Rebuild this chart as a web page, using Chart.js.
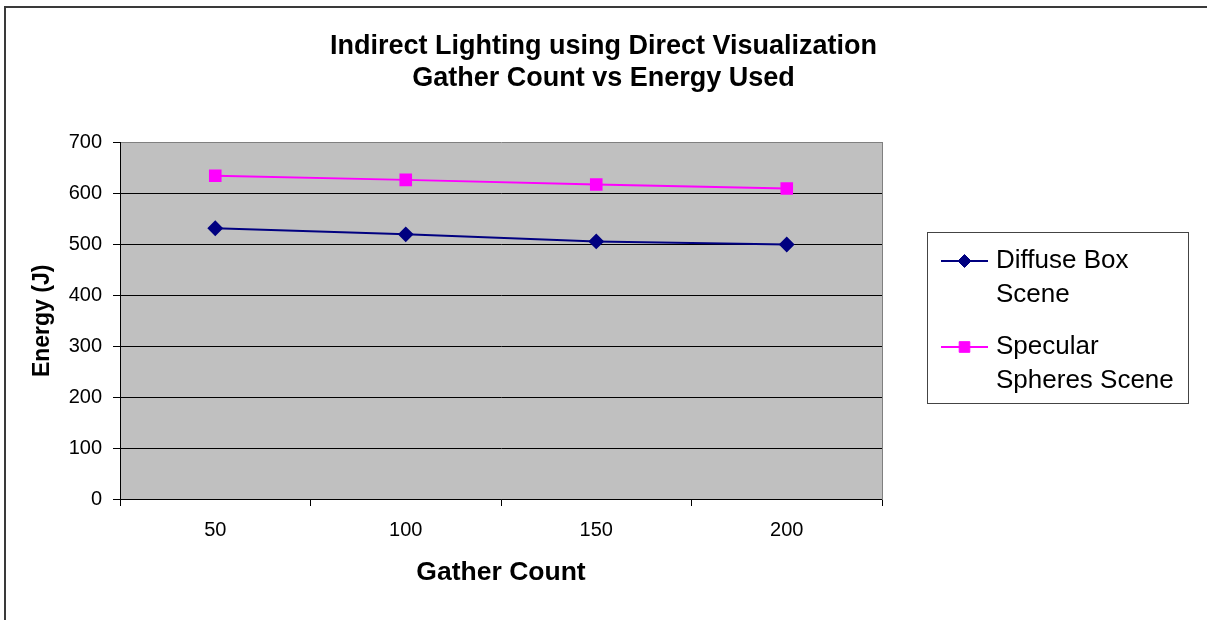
<!DOCTYPE html>
<html>
<head>
<meta charset="utf-8">
<script src="https://cdn.jsdelivr.net/npm/chart.js@4.4.1/dist/chart.umd.min.js"></script>
<style>
  html, body { margin: 0; padding: 0; background: #fff; }
  #wrap { width: 1207px; height: 620px; }
</style>
</head>
<body>
<div id="wrap"><canvas id="c" width="1207" height="620"></canvas></div>
<script>
const titleLines = ['Indirect Lighting using Direct Visualization', 'Gather Count vs Energy Used'];
const categories = ['50', '100', '150', '200'];
const diffuseBox = [532, 520, 506, 500];
const specularSpheres = [635, 627, 618, 610];
const seriesNames = ['Diffuse Box Scene', 'Specular Spheres Scene'];
const xAxisTitle = 'Gather Count';
const yAxisTitle = 'Energy (J)';
const yMin = 0, yMax = 700, yStep = 100;

const FONT = "'Liberation Sans', Arial, sans-serif";

const framePlugin = {
  id: 'frame',
  beforeDraw(chart) {
    const ctx = chart.ctx;
    const a = chart.chartArea;
    ctx.save();
    ctx.fillStyle = '#ffffff';
    ctx.fillRect(0, 0, chart.width, chart.height);
    ctx.strokeStyle = '#3a3a3a';
    ctx.lineWidth = 2;
    ctx.beginPath();
    ctx.moveTo(5, chart.height + 2);
    ctx.lineTo(5, 7);
    ctx.lineTo(chart.width + 2, 7);
    ctx.stroke();
    ctx.fillStyle = '#C0C0C0';
    ctx.fillRect(a.left, a.top, a.right - a.left, a.bottom - a.top);
    ctx.restore();
  }
};

function wrapText(ctx, text, maxW) {
  const words = text.split(' ');
  const lines = [];
  let cur = '';
  for (const w of words) {
    const t = cur ? cur + ' ' + w : w;
    if (ctx.measureText(t).width > maxW && cur) { lines.push(cur); cur = w; }
    else cur = t;
  }
  if (cur) lines.push(cur);
  return lines;
}

const legendPlugin = {
  id: 'customLegend',
  afterDraw(chart) {
    const ctx = chart.ctx;
    ctx.save();
    ctx.strokeStyle = '#444';
    ctx.lineWidth = 1;
    ctx.strokeRect(927.5, 232.5, 261, 171);
    const starts = [261, 347];
    const lineH = 34;
    chart.data.datasets.forEach((ds, i) => {
      const y = starts[i];
      ctx.strokeStyle = ds.borderColor;
      ctx.lineWidth = 2;
      ctx.beginPath();
      ctx.moveTo(941, y);
      ctx.lineTo(988, y);
      ctx.stroke();
      ctx.fillStyle = ds.pointBackgroundColor;
      ctx.strokeStyle = ds.borderColor;
      ctx.lineWidth = 1;
      Chart.helpers.drawPoint(ctx, {
        pointStyle: ds.pointStyle,
        radius: ds.pointRadius,
        borderWidth: 1,
        rotation: 0
      }, 964.5, y);
      ctx.font = '26px ' + FONT;
      ctx.textBaseline = 'middle';
      ctx.textAlign = 'left';
      ctx.fillStyle = '#000';
      const lines = wrapText(ctx, ds.label, 188);
      lines.forEach((ln, k) => ctx.fillText(ln, 996, y + k * lineH));
    });
    ctx.restore();
  }
};

new Chart(document.getElementById('c'), {
  type: 'line',
  data: {
    labels: categories,
    datasets: [
      {
        label: seriesNames[0],
        data: diffuseBox,
        borderColor: '#000080',
        backgroundColor: '#000080',
        pointBackgroundColor: '#000080',
        pointBorderColor: '#000080',
        pointStyle: 'rectRot',
        pointRadius: 6.5,
        borderWidth: 2,
        tension: 0,
        yAxisID: 'y'
      },
      {
        label: seriesNames[1],
        data: specularSpheres,
        borderColor: '#FF00FF',
        backgroundColor: '#FF00FF',
        pointBackgroundColor: '#FF00FF',
        pointBorderColor: '#FF00FF',
        pointStyle: 'rect',
        pointRadius: 7.5,
        borderWidth: 2,
        tension: 0,
        yAxisID: 'y'
      }
    ]
  },
  options: {
    responsive: false,
    animation: false,
    devicePixelRatio: 1,
    layout: { padding: 0 },
    plugins: {
      legend: { display: false },
      tooltip: { enabled: false },
      title: {
        display: true,
        text: titleLines,
        color: '#000',
        font: { family: FONT, size: 27, weight: 'bold', lineHeight: 1.18 },
        padding: { top: 31, bottom: 48 }
      }
    },
    scales: {
      x: {
        type: 'category',
        offset: true,
        grid: { offset: true, drawOnChartArea: false, tickLength: 7, color: '#000', tickColor: '#000' },
        border: { display: true, color: '#000', width: 1 },
        ticks: { color: '#000', font: { family: FONT, size: 20 }, padding: 12, maxRotation: 0 },
        title: {
          display: true, text: xAxisTitle, color: '#000',
          font: { family: FONT, size: 26.5, weight: 'bold', lineHeight: 1.2 },
          padding: { top: 0, bottom: 31 }
        },
        afterFit(s) { s.height = 121; }
      },
      y: {
        type: 'linear',
        position: 'left',
        min: yMin, max: yMax,
        grid: {
          color: (c) => (c.tick && c.tick.value === yMax ? '#808080' : '#000'),
          tickColor: '#000',
          tickLength: 7,
          lineWidth: 1
        },
        border: { display: true, color: '#000', width: 1 },
        ticks: { stepSize: yStep, color: '#000', font: { family: FONT, size: 20 }, padding: 11 },
        title: {
          display: true, text: yAxisTitle, color: '#000',
          font: { family: FONT, size: 23, weight: 'bold', lineHeight: 1.2 },
          padding: { top: 29, bottom: 0 }
        },
        afterFit(s) { s.width = 120; }
      },
      y2: {
        type: 'linear',
        position: 'right',
        min: yMin, max: yMax,
        grid: { display: false, drawOnChartArea: false, drawTicks: false },
        border: { display: true, color: '#808080', width: 1 },
        ticks: { display: false },
        afterFit(s) { s.width = 325; }
      }
    }
  },
  plugins: [framePlugin, legendPlugin]
});
</script>
</body>
</html>
